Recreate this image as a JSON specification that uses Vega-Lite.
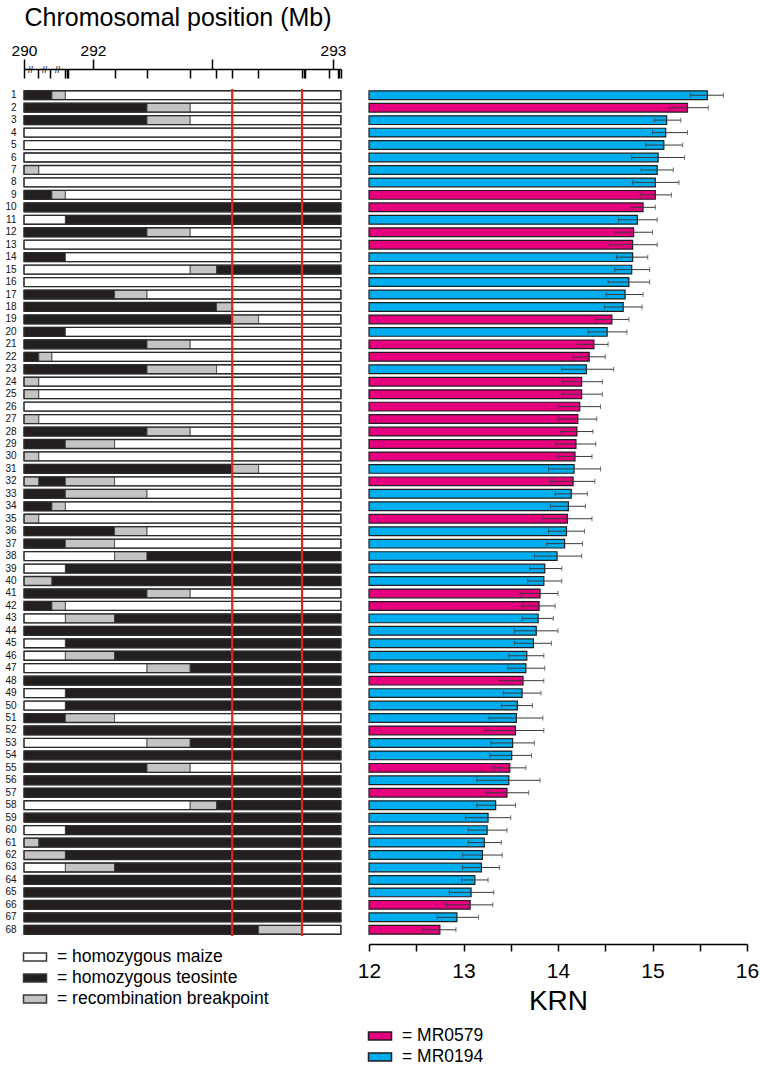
{
"$schema": "https://vega.github.io/schema/vega-lite/v6.json",
"padding": {"left": 4, "top": 5, "right": 3, "bottom": 2},
"bounds": "flush",
"spacing": 28,
"config": {"font": "Liberation Sans", "view": {"stroke": null}, "axis": {"grid": false}, "legend": {"labelColor": "black", "labelLimit": 0}},
"resolve": {"scale": {"y": "independent", "x": "independent", "fill": "independent", "color": "independent"}, "legend": {"fill": "independent", "color": "independent"}},
"hconcat": [
{
"width": 317, "height": 847,
"data": {"values": [
{"r":1,"s":290,"e":290.81,"g":"teosinte"},{"r":1,"s":290.81,"e":291.2,"g":"breakpoint"},{"r":1,"s":291.2,"e":293.033,"g":"maize"},
{"r":2,"s":290,"e":292.225,"g":"teosinte"},{"r":2,"s":292.225,"e":292.405,"g":"breakpoint"},{"r":2,"s":292.405,"e":293.033,"g":"maize"},
{"r":3,"s":290,"e":292.225,"g":"teosinte"},{"r":3,"s":292.225,"e":292.405,"g":"breakpoint"},{"r":3,"s":292.405,"e":293.033,"g":"maize"},
{"r":4,"s":290,"e":293.033,"g":"maize"},
{"r":5,"s":290,"e":293.033,"g":"maize"},
{"r":6,"s":290,"e":293.033,"g":"maize"},
{"r":7,"s":290,"e":290.43,"g":"breakpoint"},{"r":7,"s":290.43,"e":293.033,"g":"maize"},
{"r":8,"s":290,"e":293.033,"g":"maize"},
{"r":9,"s":290,"e":290.81,"g":"teosinte"},{"r":9,"s":290.81,"e":291.2,"g":"breakpoint"},{"r":9,"s":291.2,"e":293.033,"g":"maize"},
{"r":10,"s":290,"e":293.033,"g":"teosinte"},
{"r":11,"s":290,"e":291.2,"g":"maize"},{"r":11,"s":291.2,"e":293.033,"g":"teosinte"},
{"r":12,"s":290,"e":292.225,"g":"teosinte"},{"r":12,"s":292.225,"e":292.405,"g":"breakpoint"},{"r":12,"s":292.405,"e":293.033,"g":"maize"},
{"r":13,"s":290,"e":293.033,"g":"maize"},
{"r":14,"s":290,"e":291.2,"g":"teosinte"},{"r":14,"s":291.2,"e":293.033,"g":"maize"},
{"r":15,"s":290,"e":292.405,"g":"maize"},{"r":15,"s":292.405,"e":292.515,"g":"breakpoint"},{"r":15,"s":292.515,"e":293.033,"g":"teosinte"},
{"r":16,"s":290,"e":293.033,"g":"maize"},
{"r":17,"s":290,"e":292.09,"g":"teosinte"},{"r":17,"s":292.09,"e":292.225,"g":"breakpoint"},{"r":17,"s":292.225,"e":293.033,"g":"maize"},
{"r":18,"s":290,"e":292.515,"g":"teosinte"},{"r":18,"s":292.515,"e":292.58,"g":"breakpoint"},{"r":18,"s":292.58,"e":293.033,"g":"maize"},
{"r":19,"s":290,"e":292.58,"g":"teosinte"},{"r":19,"s":292.58,"e":292.69,"g":"breakpoint"},{"r":19,"s":292.69,"e":293.033,"g":"maize"},
{"r":20,"s":290,"e":291.2,"g":"teosinte"},{"r":20,"s":291.2,"e":293.033,"g":"maize"},
{"r":21,"s":290,"e":292.225,"g":"teosinte"},{"r":21,"s":292.225,"e":292.405,"g":"breakpoint"},{"r":21,"s":292.405,"e":293.033,"g":"maize"},
{"r":22,"s":290,"e":290.43,"g":"teosinte"},{"r":22,"s":290.43,"e":290.81,"g":"breakpoint"},{"r":22,"s":290.81,"e":293.033,"g":"maize"},
{"r":23,"s":290,"e":292.225,"g":"teosinte"},{"r":23,"s":292.225,"e":292.515,"g":"breakpoint"},{"r":23,"s":292.515,"e":293.033,"g":"maize"},
{"r":24,"s":290,"e":290.43,"g":"breakpoint"},{"r":24,"s":290.43,"e":293.033,"g":"maize"},
{"r":25,"s":290,"e":290.43,"g":"breakpoint"},{"r":25,"s":290.43,"e":293.033,"g":"maize"},
{"r":26,"s":290,"e":293.033,"g":"maize"},
{"r":27,"s":290,"e":290.43,"g":"breakpoint"},{"r":27,"s":290.43,"e":293.033,"g":"maize"},
{"r":28,"s":290,"e":292.225,"g":"teosinte"},{"r":28,"s":292.225,"e":292.405,"g":"breakpoint"},{"r":28,"s":292.405,"e":293.033,"g":"maize"},
{"r":29,"s":290,"e":291.2,"g":"teosinte"},{"r":29,"s":291.2,"e":292.09,"g":"breakpoint"},{"r":29,"s":292.09,"e":293.033,"g":"maize"},
{"r":30,"s":290,"e":290.43,"g":"breakpoint"},{"r":30,"s":290.43,"e":293.033,"g":"maize"},
{"r":31,"s":290,"e":292.58,"g":"teosinte"},{"r":31,"s":292.58,"e":292.69,"g":"breakpoint"},{"r":31,"s":292.69,"e":293.033,"g":"maize"},
{"r":32,"s":290,"e":290.43,"g":"breakpoint"},{"r":32,"s":290.43,"e":291.2,"g":"teosinte"},{"r":32,"s":291.2,"e":292.09,"g":"breakpoint"},{"r":32,"s":292.09,"e":293.033,"g":"maize"},
{"r":33,"s":290,"e":291.2,"g":"teosinte"},{"r":33,"s":291.2,"e":292.225,"g":"breakpoint"},{"r":33,"s":292.225,"e":293.033,"g":"maize"},
{"r":34,"s":290,"e":290.81,"g":"teosinte"},{"r":34,"s":290.81,"e":291.2,"g":"breakpoint"},{"r":34,"s":291.2,"e":293.033,"g":"maize"},
{"r":35,"s":290,"e":290.43,"g":"breakpoint"},{"r":35,"s":290.43,"e":293.033,"g":"maize"},
{"r":36,"s":290,"e":292.09,"g":"teosinte"},{"r":36,"s":292.09,"e":292.225,"g":"breakpoint"},{"r":36,"s":292.225,"e":293.033,"g":"maize"},
{"r":37,"s":290,"e":291.2,"g":"teosinte"},{"r":37,"s":291.2,"e":292.09,"g":"breakpoint"},{"r":37,"s":292.09,"e":293.033,"g":"maize"},
{"r":38,"s":290,"e":292.09,"g":"maize"},{"r":38,"s":292.09,"e":292.225,"g":"breakpoint"},{"r":38,"s":292.225,"e":293.033,"g":"teosinte"},
{"r":39,"s":290,"e":291.2,"g":"maize"},{"r":39,"s":291.2,"e":293.033,"g":"teosinte"},
{"r":40,"s":290,"e":290.81,"g":"breakpoint"},{"r":40,"s":290.81,"e":293.033,"g":"teosinte"},
{"r":41,"s":290,"e":292.225,"g":"teosinte"},{"r":41,"s":292.225,"e":292.405,"g":"breakpoint"},{"r":41,"s":292.405,"e":293.033,"g":"maize"},
{"r":42,"s":290,"e":290.81,"g":"teosinte"},{"r":42,"s":290.81,"e":291.2,"g":"breakpoint"},{"r":42,"s":291.2,"e":293.033,"g":"maize"},
{"r":43,"s":290,"e":291.2,"g":"maize"},{"r":43,"s":291.2,"e":292.09,"g":"breakpoint"},{"r":43,"s":292.09,"e":293.033,"g":"teosinte"},
{"r":44,"s":290,"e":293.033,"g":"teosinte"},
{"r":45,"s":290,"e":291.2,"g":"maize"},{"r":45,"s":291.2,"e":293.033,"g":"teosinte"},
{"r":46,"s":290,"e":291.2,"g":"maize"},{"r":46,"s":291.2,"e":292.09,"g":"breakpoint"},{"r":46,"s":292.09,"e":293.033,"g":"teosinte"},
{"r":47,"s":290,"e":292.225,"g":"maize"},{"r":47,"s":292.225,"e":292.405,"g":"breakpoint"},{"r":47,"s":292.405,"e":293.033,"g":"teosinte"},
{"r":48,"s":290,"e":293.033,"g":"teosinte"},
{"r":49,"s":290,"e":291.2,"g":"maize"},{"r":49,"s":291.2,"e":293.033,"g":"teosinte"},
{"r":50,"s":290,"e":291.2,"g":"maize"},{"r":50,"s":291.2,"e":293.033,"g":"teosinte"},
{"r":51,"s":290,"e":291.2,"g":"teosinte"},{"r":51,"s":291.2,"e":292.09,"g":"breakpoint"},{"r":51,"s":292.09,"e":293.033,"g":"maize"},
{"r":52,"s":290,"e":293.033,"g":"teosinte"},
{"r":53,"s":290,"e":292.225,"g":"maize"},{"r":53,"s":292.225,"e":292.405,"g":"breakpoint"},{"r":53,"s":292.405,"e":293.033,"g":"teosinte"},
{"r":54,"s":290,"e":293.033,"g":"teosinte"},
{"r":55,"s":290,"e":292.225,"g":"teosinte"},{"r":55,"s":292.225,"e":292.405,"g":"breakpoint"},{"r":55,"s":292.405,"e":293.033,"g":"maize"},
{"r":56,"s":290,"e":293.033,"g":"teosinte"},
{"r":57,"s":290,"e":293.033,"g":"teosinte"},
{"r":58,"s":290,"e":292.405,"g":"maize"},{"r":58,"s":292.405,"e":292.515,"g":"breakpoint"},{"r":58,"s":292.515,"e":293.033,"g":"teosinte"},
{"r":59,"s":290,"e":293.033,"g":"teosinte"},
{"r":60,"s":290,"e":291.2,"g":"maize"},{"r":60,"s":291.2,"e":293.033,"g":"teosinte"},
{"r":61,"s":290,"e":290.43,"g":"breakpoint"},{"r":61,"s":290.43,"e":293.033,"g":"teosinte"},
{"r":62,"s":290,"e":291.2,"g":"breakpoint"},{"r":62,"s":291.2,"e":293.033,"g":"teosinte"},
{"r":63,"s":290,"e":291.2,"g":"maize"},{"r":63,"s":291.2,"e":292.09,"g":"breakpoint"},{"r":63,"s":292.09,"e":293.033,"g":"teosinte"},
{"r":64,"s":290,"e":293.033,"g":"teosinte"},
{"r":65,"s":290,"e":293.033,"g":"teosinte"},
{"r":66,"s":290,"e":293.033,"g":"teosinte"},
{"r":67,"s":290,"e":293.033,"g":"teosinte"},
{"r":68,"s":290,"e":292.69,"g":"teosinte"},{"r":68,"s":292.69,"e":292.871,"g":"breakpoint"},{"r":68,"s":292.871,"e":293.033,"g":"maize"}
]},
"resolve": {"axis": {"x": "independent"}},
"layer": [
{
"mark": {"type": "rect", "stroke": "#3a3a3a", "strokeWidth": 0.8},
"encoding": {
"y": {"field": "r", "type": "ordinal", "scale": {"paddingInner": 0.28, "paddingOuter": 0.14},
  "axis": {"title": null, "domain": false, "ticks": false, "labelPadding": 8, "labelFontSize": 10, "labelColor": "#111", "minExtent": 20, "maxExtent": 20}},
"x": {"field": "s", "type": "quantitative",
  "scale": {"domain": [290, 292, 293.0333], "range": [0, 69, 317], "nice": false, "zero": false},
  "axis": {"orient": "top", "offset": 20, "values": [290, 292, 292.497, 293],
    "labelExpr": "datum.value == 290 ? '290' : datum.value == 292 ? '292' : datum.value == 293 ? '293' : ''",
    "tickSize": 10, "tickColor": "black", "tickWidth": 1.5, "domainColor": "black", "domainWidth": 1.5,
    "labelFontSize": 15.5, "labelPadding": 1, "labelColor": "black", "labelFlush": false, "labelOverlap": false,
    "title": "Chromosomal position (Mb)", "titleFontSize": 25, "titleFontWeight": "normal", "titleAnchor": "start",
    "titlePadding": 13, "titleColor": "black"}},
"x2": {"field": "e"},
"fill": {"field": "g", "type": "nominal",
  "scale": {"domain": ["maize", "teosinte", "breakpoint"], "range": ["#ffffff", "#231f20", "#c4c4c4"]},
  "legend": {"orient": "bottom", "direction": "vertical", "title": null, "offset": 10,
    "labelExpr": "datum.label == 'maize' ? '= homozygous maize' : datum.label == 'teosinte' ? '= homozygous teosinte' : '= recombination breakpoint'",
    "labelFontSize": 17.5, "labelOffset": 11, "rowPadding": 1, "labelLimit": 0,
    "symbolType": "M-1.15,-0.4H1.15V0.4H-1.15Z", "symbolSize": 400, "symbolOpacity": 1,
    "encode": {"symbols": {"update": {"stroke": {"value": "#222"}, "strokeWidth": {"value": 1.5}}}}}}
}
},
{
"transform": [{"aggregate": [{"op": "min", "field": "s", "as": "s0"}, {"op": "max", "field": "e", "as": "e0"}], "groupby": ["r"]}],
"mark": {"type": "rect", "fill": null, "fillOpacity": 0, "stroke": "#2a2a2a", "strokeWidth": 1.3},
"encoding": {
"y": {"field": "r", "type": "ordinal"},
"x": {"field": "s0", "type": "quantitative",
  "axis": {"orient": "top", "offset": 20, "values": [290.174, 290.58, 290.957], "ticks": false, "domain": false,
    "labelExpr": "'//'", "labelFontSize": 9, "labelBaseline": "middle", "labelPadding": 0, "labelColor": "black",
    "labelFlush": false, "labelOverlap": false, "title": null}},
"x2": {"field": "e0"}
}
},
{
"data": {"values": [{"m": 292.58}, {"m": 292.871}]},
"mark": {"type": "rule", "color": "#e2231a", "strokeWidth": 2.2},
"encoding": {
"x": {"field": "m", "type": "quantitative",
  "axis": {"orient": "top", "offset": 20, "values": [290, 290.406, 290.754, 291.188, 291.238, 291.284, 292.092, 292.225, 292.404, 292.5125, 292.579, 292.6875, 292.871, 292.878, 292.885, 292.983, 293.02, 293.026, 293.032],
    "tickSize": -9, "tickColor": "black", "tickWidth": 1.5, "domain": false, "labels": false, "title": null}}
}
}
]
},
{
"width": 378, "height": 847,
"data": {"values": [
{"r":1,"krn":15.58,"lo":15.40,"hi":15.75,"strain":"MR0194"},
{"r":2,"krn":15.37,"lo":15.18,"hi":15.59,"strain":"MR0579"},
{"r":3,"krn":15.15,"lo":15.02,"hi":15.30,"strain":"MR0194"},
{"r":4,"krn":15.14,"lo":15.00,"hi":15.37,"strain":"MR0194"},
{"r":5,"krn":15.12,"lo":14.93,"hi":15.32,"strain":"MR0194"},
{"r":6,"krn":15.06,"lo":14.78,"hi":15.34,"strain":"MR0194"},
{"r":7,"krn":15.05,"lo":14.88,"hi":15.22,"strain":"MR0194"},
{"r":8,"krn":15.03,"lo":14.79,"hi":15.28,"strain":"MR0194"},
{"r":9,"krn":15.03,"lo":14.87,"hi":15.20,"strain":"MR0579"},
{"r":10,"krn":14.90,"lo":14.78,"hi":15.03,"strain":"MR0579"},
{"r":11,"krn":14.84,"lo":14.64,"hi":15.05,"strain":"MR0194"},
{"r":12,"krn":14.80,"lo":14.61,"hi":15.00,"strain":"MR0579"},
{"r":13,"krn":14.79,"lo":14.55,"hi":15.05,"strain":"MR0579"},
{"r":14,"krn":14.79,"lo":14.62,"hi":14.95,"strain":"MR0194"},
{"r":15,"krn":14.78,"lo":14.60,"hi":14.97,"strain":"MR0194"},
{"r":16,"krn":14.75,"lo":14.53,"hi":14.97,"strain":"MR0194"},
{"r":17,"krn":14.71,"lo":14.51,"hi":14.90,"strain":"MR0194"},
{"r":18,"krn":14.69,"lo":14.49,"hi":14.89,"strain":"MR0194"},
{"r":19,"krn":14.57,"lo":14.40,"hi":14.75,"strain":"MR0579"},
{"r":20,"krn":14.52,"lo":14.32,"hi":14.73,"strain":"MR0194"},
{"r":21,"krn":14.38,"lo":14.21,"hi":14.53,"strain":"MR0579"},
{"r":22,"krn":14.33,"lo":14.16,"hi":14.50,"strain":"MR0579"},
{"r":23,"krn":14.30,"lo":14.04,"hi":14.59,"strain":"MR0194"},
{"r":24,"krn":14.25,"lo":14.05,"hi":14.47,"strain":"MR0579"},
{"r":25,"krn":14.25,"lo":14.05,"hi":14.47,"strain":"MR0579"},
{"r":26,"krn":14.23,"lo":14.01,"hi":14.45,"strain":"MR0579"},
{"r":27,"krn":14.21,"lo":14.00,"hi":14.41,"strain":"MR0579"},
{"r":28,"krn":14.20,"lo":14.03,"hi":14.37,"strain":"MR0579"},
{"r":29,"krn":14.19,"lo":13.97,"hi":14.40,"strain":"MR0579"},
{"r":30,"krn":14.18,"lo":14.00,"hi":14.36,"strain":"MR0579"},
{"r":31,"krn":14.17,"lo":13.90,"hi":14.45,"strain":"MR0194"},
{"r":32,"krn":14.16,"lo":13.92,"hi":14.39,"strain":"MR0579"},
{"r":33,"krn":14.14,"lo":13.97,"hi":14.31,"strain":"MR0194"},
{"r":34,"krn":14.11,"lo":13.92,"hi":14.29,"strain":"MR0194"},
{"r":35,"krn":14.10,"lo":13.84,"hi":14.36,"strain":"MR0579"},
{"r":36,"krn":14.09,"lo":13.90,"hi":14.28,"strain":"MR0194"},
{"r":37,"krn":14.07,"lo":13.88,"hi":14.26,"strain":"MR0194"},
{"r":38,"krn":13.99,"lo":13.75,"hi":14.25,"strain":"MR0194"},
{"r":39,"krn":13.86,"lo":13.70,"hi":14.04,"strain":"MR0194"},
{"r":40,"krn":13.85,"lo":13.68,"hi":14.04,"strain":"MR0194"},
{"r":41,"krn":13.81,"lo":13.60,"hi":14.00,"strain":"MR0579"},
{"r":42,"krn":13.80,"lo":13.62,"hi":13.97,"strain":"MR0579"},
{"r":43,"krn":13.79,"lo":13.62,"hi":13.95,"strain":"MR0194"},
{"r":44,"krn":13.77,"lo":13.54,"hi":14.00,"strain":"MR0194"},
{"r":45,"krn":13.74,"lo":13.54,"hi":13.93,"strain":"MR0194"},
{"r":46,"krn":13.67,"lo":13.48,"hi":13.85,"strain":"MR0194"},
{"r":47,"krn":13.66,"lo":13.47,"hi":13.86,"strain":"MR0194"},
{"r":48,"krn":13.63,"lo":13.38,"hi":13.85,"strain":"MR0579"},
{"r":49,"krn":13.62,"lo":13.42,"hi":13.82,"strain":"MR0194"},
{"r":50,"krn":13.57,"lo":13.40,"hi":13.73,"strain":"MR0194"},
{"r":51,"krn":13.56,"lo":13.27,"hi":13.84,"strain":"MR0194"},
{"r":52,"krn":13.55,"lo":13.23,"hi":13.85,"strain":"MR0579"},
{"r":53,"krn":13.52,"lo":13.29,"hi":13.75,"strain":"MR0194"},
{"r":54,"krn":13.51,"lo":13.28,"hi":13.72,"strain":"MR0194"},
{"r":55,"krn":13.49,"lo":13.31,"hi":13.66,"strain":"MR0579"},
{"r":56,"krn":13.48,"lo":13.14,"hi":13.81,"strain":"MR0194"},
{"r":57,"krn":13.46,"lo":13.24,"hi":13.69,"strain":"MR0579"},
{"r":58,"krn":13.34,"lo":13.14,"hi":13.55,"strain":"MR0194"},
{"r":59,"krn":13.26,"lo":13.02,"hi":13.50,"strain":"MR0194"},
{"r":60,"krn":13.25,"lo":13.05,"hi":13.46,"strain":"MR0194"},
{"r":61,"krn":13.22,"lo":13.05,"hi":13.40,"strain":"MR0194"},
{"r":62,"krn":13.20,"lo":12.99,"hi":13.41,"strain":"MR0194"},
{"r":63,"krn":13.19,"lo":12.99,"hi":13.38,"strain":"MR0194"},
{"r":64,"krn":13.12,"lo":12.98,"hi":13.26,"strain":"MR0194"},
{"r":65,"krn":13.08,"lo":12.85,"hi":13.32,"strain":"MR0194"},
{"r":66,"krn":13.07,"lo":12.82,"hi":13.31,"strain":"MR0579"},
{"r":67,"krn":12.93,"lo":12.72,"hi":13.16,"strain":"MR0194"},
{"r":68,"krn":12.75,"lo":12.57,"hi":12.92,"strain":"MR0579"}
]},
"encoding": {"y": {"field": "r", "type": "ordinal", "scale": {"paddingInner": 0.3, "paddingOuter": 0.15}, "axis": null}},
"layer": [
{
"mark": {"type": "bar", "stroke": "#1e1e1e", "strokeWidth": 1.2},
"encoding": {
"x": {"field": "krn", "type": "quantitative", "scale": {"domain": [12, 16], "nice": false, "zero": false},
  "axis": {"orient": "bottom", "offset": 8, "values": [12, 12.5, 13, 13.5, 14, 14.5, 15, 15.5, 16], "format": ".0f",
    "labelExpr": "datum.value % 1 == 0 ? datum.label : ''",
    "tickSize": 7, "tickWidth": 1.5, "tickColor": "black", "domainColor": "black", "domainWidth": 1.5,
    "labelFontSize": 21, "labelPadding": 9, "labelColor": "black", "labelFlush": false, "labelOverlap": false,
    "title": "KRN", "titleFontSize": 28, "titleFontWeight": "normal", "titlePadding": 6, "titleColor": "black"}},
"x2": {"datum": 12},
"color": {"field": "strain", "type": "nominal",
  "scale": {"domain": ["MR0579", "MR0194"], "range": ["#e6007e", "#00aeef"]},
  "legend": {"orient": "bottom", "direction": "vertical", "title": null, "offset": 10,
    "labelExpr": "'= ' + datum.label", "labelFontSize": 17.5, "labelOffset": 11, "rowPadding": 1, "labelLimit": 0,
    "symbolType": "M-1.15,-0.4H1.15V0.4H-1.15Z", "symbolSize": 400, "symbolOpacity": 1,
    "encode": {"symbols": {"update": {"stroke": {"value": "#222"}, "strokeWidth": {"value": 1.5}}}}}}
}
},
{"mark": {"type": "rule", "color": "#3a3a3a", "strokeWidth": 1},
 "encoding": {"x": {"field": "lo", "type": "quantitative"}, "x2": {"field": "hi"}}},
{"mark": {"type": "tick", "color": "#3a3a3a", "thickness": 1, "size": 5},
 "encoding": {"x": {"field": "lo", "type": "quantitative"}}},
{"mark": {"type": "tick", "color": "#3a3a3a", "thickness": 1, "size": 5},
 "encoding": {"x": {"field": "hi", "type": "quantitative"}}}
]
}
]
}
